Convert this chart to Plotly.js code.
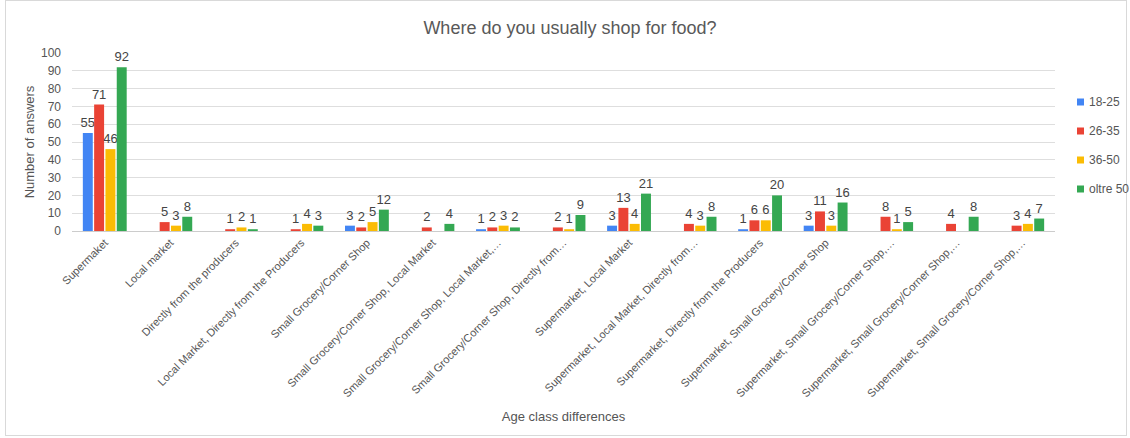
<!DOCTYPE html>
<html><head><meta charset="utf-8">
<script src="https://cdn.plot.ly/plotly-3.0.1.min.js"></script>
<style>
html,body{margin:0;padding:0;background:#fff;}
#frame{position:absolute;left:5px;top:0px;width:1122px;height:436px;border:1px solid #d9d9d9;box-sizing:border-box;}
#chart{position:absolute;left:0;top:0;width:1130px;height:438px;}
</style></head>
<body>
<div id="frame"></div>
<div id="chart"></div>
<script>
const categories = [
  "Supermaket",
  "Local market",
  "Directly from the producers",
  "Local Market, Directly from the Producers",
  "Small Grocery/Corner Shop",
  "Small Grocery/Corner Shop, Local Market",
  "Small Grocery/Corner Shop, Local Market,…",
  "Small Grocery/Corner Shop, Directly from…",
  "Supermarket, Local Market",
  "Supermarket, Local Market, Directly from…",
  "Supermarket, Directly from the Producers",
  "Supermarket, Small Grocery/Corner Shop",
  "Supermarket, Small Grocery/Corner Shop,…",
  "Supermarket, Small Grocery/Corner Shop,…",
  "Supermarket, Small Grocery/Corner Shop,…"
];
const seriesNames = ["18-25", "26-35", "36-50", "oltre 50"];
const age18_25  = [55, null, null, null, 3, null, 1, null, 3, null, 1, 3, null, null, null];
const age26_35  = [71, 5, 1, 1, 2, 2, 2, 2, 13, 4, 6, 11, 8, 4, 3];
const age36_50  = [46, 3, 2, 4, 5, null, 3, 1, 4, 3, 6, 3, 1, null, 4];
const oltre50   = [92, 8, 1, 3, 12, 4, 2, 9, 21, 8, 20, 16, 5, 8, 7];
const yTicks = [0,10,20,30,40,50,60,70,80,90,100];

const colors = ["#4285F4", "#EA4335", "#FBBC04", "#34A853"];
const allSeries = [age18_25, age26_35, age36_50, oltre50];
const idx = categories.map((_, i) => i);

const traces = allSeries.map((vals, k) => ({
  type: "bar",
  name: seriesNames[k],
  x: idx,
  y: vals,
  marker: {color: colors[k]},
  text: vals.map(v => v == null ? "" : String(v)),
  textposition: "outside",
  constraintext: "none",
  textfont: {size: 13, color: "#444", family: "Liberation Sans, Arial, sans-serif"},
  cliponaxis: false,
  hoverinfo: "x+y+name",
  showlegend: false
}));

// custom legend (small squares + labels) to the right of the plot
const W = 1130, H = 438, mL = 72, mR = 75, mT = 53, mB = 207;
const pw = W - mL - mR, ph = H - mT - mB;
const legX = (1077 - mL) / pw;
const legShapes = [], legAnn = [];
seriesNames.forEach((name, k) => {
  const cy = 102 + 29 * k;
  const yc = (H - mB - cy) / ph;
  const half = 3.5 / ph;
  legShapes.push({type: "rect", xref: "paper", yref: "paper",
    x0: legX, x1: legX + 7 / pw, y0: yc - half, y1: yc + half,
    fillcolor: colors[k], line: {width: 0}});
  legAnn.push({xref: "paper", yref: "paper", x: legX + 10 / pw, y: yc,
    xanchor: "left", yanchor: "middle", text: name, showarrow: false,
    font: {size: 12, color: "#555"}});
});

const layout = {
  width: W, height: H,
  paper_bgcolor: "rgba(0,0,0,0)",
  plot_bgcolor: "#fff",
  font: {family: "Liberation Sans, Arial, sans-serif", color: "#555"},
  margin: {l: mL, r: mR, t: mT, b: mB, autoexpand: false},
  title: {text: "Where do you usually shop for food?", x: 0.5044, xref: "container", xanchor: "center",
          y: 0.936, yref: "container", yanchor: "middle",
          font: {size: 18, color: "#595959"}},
  barmode: "group",
  bargap: 0.31,
  bargroupgap: 0.12,
  xaxis: {
    tickvals: idx, ticktext: categories, tickangle: -45,
    tickfont: {size: 11, color: "#555"},
    range: [-0.5, 14.5],
    showgrid: false, zeroline: false, ticks: "",
    showline: true, linecolor: "#ccc",
    title: {text: "Age class differences", font: {size: 13, color: "#555"}, standoff: 13}
  },
  yaxis: {
    range: [0, 100], tickvals: yTicks,
    tickfont: {size: 12, color: "#555"},
    ticklabelstandoff: 10,
    gridcolor: "#dedede", zeroline: false,
    title: {text: "Number of answers", font: {size: 13, color: "#555"}, standoff: 3}
  },
  shapes: legShapes,
  annotations: legAnn,
  showlegend: false
};

Plotly.newPlot("chart", traces, layout, {displayModeBar: false, staticPlot: true});
</script>
</body></html>
